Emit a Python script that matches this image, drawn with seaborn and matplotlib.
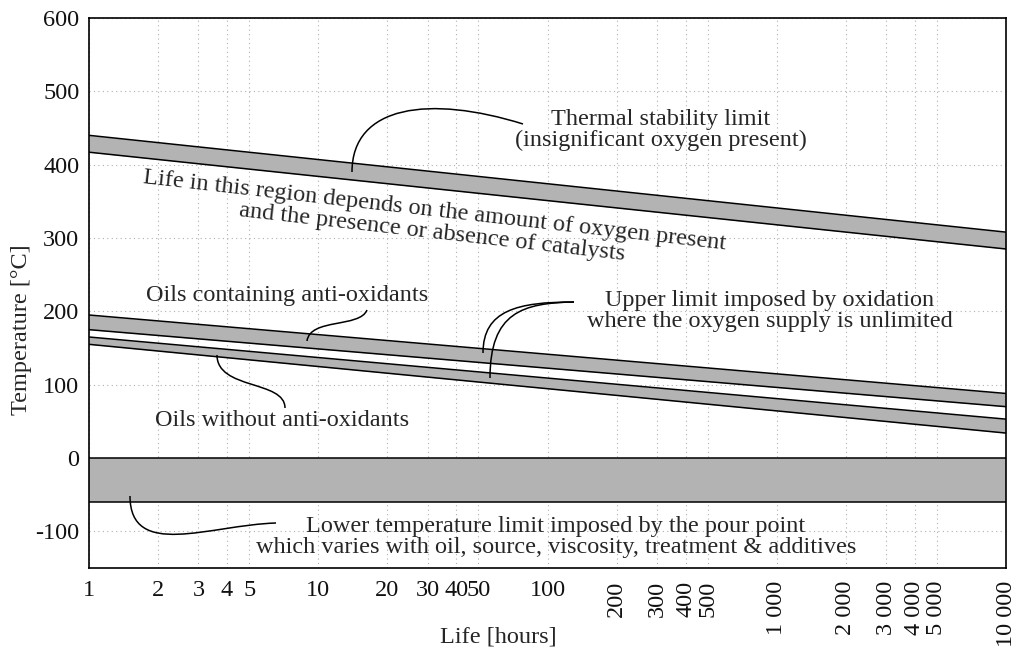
import numpy as np
import pandas as pd
import matplotlib
matplotlib.use("Agg")
import matplotlib.pyplot as plt
import seaborn as sns
from matplotlib.path import Path
from matplotlib.patches import PathPatch

# ---------------- data ----------------
life_hours = [1, 10000]
thermal_upper = [440, 308]
thermal_lower = [417, 285]
antiox_upper = [195, 88]
antiox_lower = [175, 70]
noantiox_upper = [165, 53]
noantiox_lower = [155, 34]
pour_upper = [0, 0]
pour_lower = [-60, -60]

x_ticks = [1, 2, 3, 4, 5, 10, 20, 30, 40, 50, 100,
           200, 300, 400, 500, 1000, 2000, 3000, 4000, 5000, 10000]
x_tick_labels = ["1", "2", "3", "4", "5", "10", "20", "30", "40", "50", "100",
                 "200", "300", "400", "500", "1 000", "2 000", "3 000",
                 "4 000", "5 000", "10 000"]
y_ticks = [-100, 0, 100, 200, 300, 400, 500, 600]

# ---------------- style ----------------
sns.set_style("white")
plt.rcParams["font.family"] = ["Liberation Serif", "DejaVu Serif"]
FS = 17.5

W, H = 1017, 653
fig = plt.figure(figsize=(W / 100, H / 100), dpi=100)
L, R, T, B = 89, 1006, 18, 568
ax = fig.add_axes([L / W, 1 - B / H, (R - L) / W, (B - T) / H])
ax.set_xscale("log")
ax.set_xlim(1, 10000)
ax.set_ylim(-150, 600)

FILL = "#b3b3b3"
bands = [(thermal_lower, thermal_upper), (antiox_lower, antiox_upper),
         (noantiox_lower, noantiox_upper), (pour_lower, pour_upper)]
for lo, hi in bands:
    ax.fill_between(life_hours, lo, hi, color=FILL, lw=0, zorder=2)
    sns.lineplot(x=life_hours, y=hi, color="black", lw=1.1, ax=ax, zorder=3)
    sns.lineplot(x=life_hours, y=lo, color="black", lw=1.1, ax=ax, zorder=3)

ax.set_xticks(x_ticks, x_tick_labels)
ax.minorticks_off()
ax.set_yticks(y_ticks, [str(v) for v in y_ticks])
for i, lab in enumerate(ax.get_xticklabels()):
    if x_ticks[i] >= 200:
        lab.set_rotation(90)
ax.tick_params(axis="both", length=0, labelsize=FS, colors="#111111")
ax.tick_params(axis="x", pad=9)
ax.tick_params(axis="y", pad=7)
ax.grid(True, which="major", linestyle=(0, (1, 3)), color="#b0b0b0", lw=0.8, zorder=0)
ax.set_axisbelow(True)
for s in ax.spines.values():
    s.set_color("black")
    s.set_linewidth(1.2)
    s.set_zorder(5)

ax.set_xlabel("Life [hours]", fontsize=FS)
ax.set_ylabel("Temperature [°C]", fontsize=FS)
ax.xaxis.set_label_coords((498 - L) / (R - L), (B - 626) / (B - T))
ax.yaxis.set_label_coords((32 - L) / (R - L), (B - 330) / (B - T))


def fr(px, py):
    return ((px - L) / (R - L), (B - py) / (B - T))


def curve(p0, p1, p2, p3):
    verts = [fr(*p0), fr(*p1), fr(*p2), fr(*p3)]
    path = Path(verts, [Path.MOVETO, Path.CURVE4, Path.CURVE4, Path.CURVE4])
    ax.add_patch(PathPatch(path, fc="none", ec="black", lw=1.1,
                           transform=ax.transAxes, zorder=4))


curve((352, 172), (352, 105), (430, 95), (523, 124))
curve((307, 341), (310, 318), (360, 328), (367, 310))
curve((217, 355), (217, 390), (285, 380), (285, 408))
curve((483, 353), (483, 310), (518, 302), (574, 302))
curve((490, 378), (490, 312), (523, 303), (574, 302))
curve((130, 496), (130, 560), (210, 525), (276, 523))


def txt(px, py, s, **kw):
    x, y = fr(px, py)
    ax.text(x, y, s, transform=ax.transAxes, ha="center", va="center",
            fontsize=FS, multialignment="center", linespacing=1.05, zorder=6, **kw)


txt(661, 130, "Thermal stability limit\n(insignificant oxygen present)")
txt(433, 222, "Life in this region depends on the amount of oxygen present\n"
              "and the presence or absence of catalysts", rotation=-6.5)
txt(287, 296, "Oils containing anti-oxidants")
txt(770, 311, "Upper limit imposed by oxidation\nwhere the oxygen supply is unlimited")
txt(282, 421, "Oils without anti-oxidants")
txt(556, 537, "Lower temperature limit imposed by the pour point\n"
              "which varies with oil, source, viscosity, treatment & additives")

fig.savefig("out.png", dpi=100)
